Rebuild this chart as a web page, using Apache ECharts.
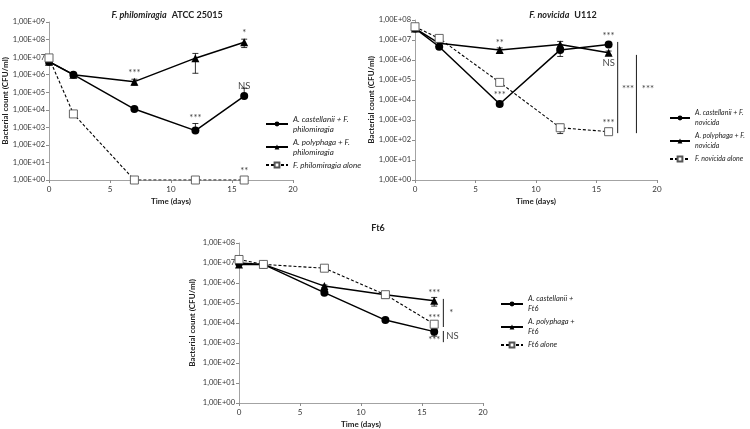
<!DOCTYPE html>
<html>
<head>
<meta charset="utf-8">
<script src="https://cdn.jsdelivr.net/npm/echarts@6/dist/echarts.min.js"></script>
<style>html,body{margin:0;padding:0;background:#fff}#c{width:750px;height:429px}</style>
</head>
<body>
<div id="c"></div>
<script>
// ---- data ----
const days = [0, 2, 7, 12, 16];
const xMin = 0, xMax = 20, xStep = 5;

// Panel 1: F. philomiragia ATCC 25015
const p1Cast  = [5.5e6, 1.0e6, 1.1e4, 6.5e2, 6.0e4];
const p1Poly  = [5.5e6, 1.0e6, 4.0e5, 8.7e6, 7.0e7];
const p1Alone = [9.0e6, 5.8e3, 1, 1, 1];
const p1CastSD  = [0, 1e5, 2e3, 1e3, 1.1e5];
const p1PolySD  = [0, 1e5, 1.5e5, 7.5e6, 3.5e7];
const p1AloneSD = [0, 0, 0, 0, 0];

// Panel 2: F. novicida U112
const p2Cast  = [3.8e7, 4.6e6, 6.3e3, 3.2e6, 6.0e6];
const p2Poly  = [3.8e7, 6.8e6, 3.2e6, 6.0e6, 2.3e6];
const p2Alone = [4.6e7, 1.2e7, 7.6e4, 4.1e2, 2.6e2];
const p2CastSD  = [0, 5e5, 1.5e3, 1.7e6, 1e6];
const p2PolySD  = [0, 1e6, 8e5, 2.5e6, 5e5];
const p2AloneSD = [0, 0, 2e4, 2e2, 3e1];

// Panel 3: Ft6
const p3Cast  = [1.0e7, 8.5e6, 3.3e5, 1.4e4, 3.7e3];
const p3Poly  = [8.5e6, 8.5e6, 7.0e5, 2.6e5, 1.3e5];
const p3Alone = [1.5e7, 8.5e6, 5.5e6, 2.6e5, 8.7e3];
const p3CastSD  = [0, 0, 5e4, 2e3, 1.5e3];
const p3PolySD  = [0, 0, 1e5, 3e4, 6e4];
const p3AloneSD = [0, 0, 0, 3e4, 2e3];

// significance annotations [day, value, text]
const p1Notes = [[7, 1.3e6, '***'], [16, 2.3e8, '*'], [16, 2.3e5, 'NS'], [12, 3.4e3, '***'], [16, 3.2, '**']];
const p2Notes = [[7, 7e6, '**'], [7, 1.8e4, '***'], [16, 1.6e7, '***'], [16, 7e5, 'NS'], [16, 7e2, '***'], [17.6, 3.5e4, '***'], [19.25, 3.5e4, '***']];
const p3Notes = [[16, 3.2e5, '***'], [16, 1.8e4, '***'], [16, 1.4e3, '***'], [17.4, 3.2e4, '*'], [17.5, 2.2e3, 'NS']];
// comparison brackets [day, from, to]
const p2Brackets = [[16.75, 8e6, 2.2e2], [18.3, 1.8e6, 2.2e2]];
const p3Brackets = [[16.75, 1.6e5, 6.3e3], [16.75, 4e3, 1.1e3]];

const names = [
  ['A. castellanii + F.\nphilomiragia', 'A. polyphaga + F.\nphilomiragia', 'F. philomiragia alone'],
  ['A. castellanii + F.\nnovicida', 'A. polyphaga + F.\nnovicida', 'F. novicida alone'],
  ['A. castellanii +\nFt6', 'A. polyphaga +\nFt6', 'Ft6 alone']
];

// ---- chart ----
const FONT = 'Lato, "Open Sans", sans-serif';
const chart = echarts.init(document.getElementById('c'));
const zip = arr => days.map((d, i) => [d, arr[i]]);
const zipSD = (m, sd) => days.map((d, i) => [d, m[i], sd[i]]).filter(r => r[2] > 0);

const grids = [
  {left: 49, top: 22, width: 244, height: 158},
  {left: 415, top: 20, width: 242, height: 160},
  {left: 239, top: 243, width: 244, height: 160}
];
const yMaxes = [1e9, 1e8, 1e8];
const yNameGaps = [40, 36, 43];

function fmtExp(v) {
  const e = Math.round(Math.log10(v));
  return '1,00E+' + String(e).padStart(2, '0');
}

const xAxis = grids.map((g, i) => ({
  type: 'value', gridIndex: i, min: xMin, max: xMax, interval: xStep,
  axisLine: {lineStyle: {color: '#8c8c8c', width: 0.8}},
  axisTick: {show: true, length: 3, lineStyle: {color: '#8c8c8c'}},
  splitLine: {show: false},
  axisLabel: {fontSize: 8, color: '#333', margin: 5, fontFamily: FONT},
  name: 'Time (days)', nameLocation: 'middle', nameGap: 17,
  nameTextStyle: {fontSize: 8, fontWeight: 'bold', color: '#222', fontFamily: FONT}
}));
const yAxis = grids.map((g, i) => ({
  type: 'log', logBase: 10, gridIndex: i, min: 1, max: yMaxes[i],
  axisLine: {show: true, lineStyle: {color: '#8c8c8c', width: 0.8}},
  axisTick: {show: true, length: 3, lineStyle: {color: '#8c8c8c'}},
  splitLine: {show: false},
  axisLabel: {fontSize: 7.5, color: '#333', margin: 4, fontFamily: FONT, formatter: fmtExp},
  name: 'Bacterial count (CFU/ml)', nameLocation: 'middle', nameGap: yNameGaps[i],
  nameTextStyle: {fontSize: 8, fontWeight: 'bold', color: '#222', fontFamily: FONT}
}));

const panels = [
  [p1Cast, p1Poly, p1Alone, p1CastSD, p1PolySD, p1AloneSD, p1Notes, []],
  [p2Cast, p2Poly, p2Alone, p2CastSD, p2PolySD, p2AloneSD, p2Notes, p2Brackets],
  [p3Cast, p3Poly, p3Alone, p3CastSD, p3PolySD, p3AloneSD, p3Notes, p3Brackets]
];

function errRender(params, api) {
  const x = api.value(0), m = api.value(1), sd = api.value(2);
  const c = api.coord([x, m]);
  const hi = api.coord([x, m + sd]);
  const hasLo = m - sd > 0;
  const lo = hasLo ? api.coord([x, m - sd]) : c;
  const st = {stroke: '#000', lineWidth: 0.8};
  const w = 3;
  const ch = [
    {type: 'line', shape: {x1: hi[0], y1: hi[1], x2: lo[0], y2: lo[1]}, style: st},
    {type: 'line', shape: {x1: hi[0] - w, y1: hi[1], x2: hi[0] + w, y2: hi[1]}, style: st}
  ];
  if (hasLo) ch.push({type: 'line', shape: {x1: lo[0] - w, y1: lo[1], x2: lo[0] + w, y2: lo[1]}, style: st});
  return {type: 'group', children: ch};
}
function bracketRender(params, api) {
  const a = api.coord([api.value(0), api.value(1)]);
  const b = api.coord([api.value(0), api.value(2)]);
  return {type: 'line', shape: {x1: a[0], y1: a[1], x2: b[0], y2: b[1]}, style: {stroke: '#000', lineWidth: 0.9}};
}

const series = [];
panels.forEach((p, i) => {
  const [cast, poly, alone, castSD, polySD, aloneSD, notes, brackets] = p;
  series.push({
    type: 'custom', xAxisIndex: i, yAxisIndex: i, renderItem: errRender, silent: true, z: 1,
    encode: {x: 0, y: 1}, data: zipSD(cast, castSD).concat(zipSD(poly, polySD), zipSD(alone, aloneSD))
  });
  series.push({
    name: names[i][0], type: 'line', xAxisIndex: i, yAxisIndex: i, data: zip(cast), z: 3,
    symbol: 'circle', symbolSize: 8, lineStyle: {color: '#000', width: 1.5},
    itemStyle: {color: '#000'}, animation: false
  });
  series.push({
    name: names[i][1], type: 'line', xAxisIndex: i, yAxisIndex: i, data: zip(poly), z: 3,
    symbol: 'triangle', symbolSize: 8, lineStyle: {color: '#000', width: 1.5},
    itemStyle: {color: '#000'}, animation: false
  });
  series.push({
    name: names[i][2], type: 'line', xAxisIndex: i, yAxisIndex: i, data: zip(alone), z: 3,
    symbol: 'rect', symbolSize: 8, lineStyle: {color: '#000', width: 1.1, type: [3, 2]},
    itemStyle: {color: '#fff', borderColor: '#555', borderWidth: 0.9}, animation: false
  });
  series.push({
    type: 'scatter', xAxisIndex: i, yAxisIndex: i, symbolSize: 0, silent: true, z: 5,
    data: notes,
    label: {show: true, position: 'inside', formatter: d => d.data[2], fontSize: 9.5, color: '#111', fontFamily: FONT}
  });
  if (brackets.length) series.push({
    type: 'custom', xAxisIndex: i, yAxisIndex: i, renderItem: bracketRender, silent: true, z: 2,
    encode: {x: 0, y: [1, 2]}, data: brackets
  });
});

function legendOf(left, top, data, fs, iw) {
  return {
    left, top, data,
    orient: 'vertical', itemWidth: iw, itemHeight: 6, itemGap: 3, selectedMode: false,
    textStyle: {fontSize: fs, fontStyle: 'italic', color: '#222', fontFamily: FONT, lineHeight: 10}
  };
}

const titleRich = {
  i: {fontSize: 9, fontWeight: 'bold', fontStyle: 'italic', color: '#222', fontFamily: FONT},
  b: {fontSize: 9, fontWeight: 'bold', color: '#222', fontFamily: FONT}
};

chart.setOption({
  animation: false,
  title: [
    {text: '{i|F. philomiragia} {b|ATCC 25015}', left: 162, top: 1, textAlign: 'center', textStyle: {rich: titleRich}},
    {text: '{i|F. novicida} {b|U112}', left: 558, top: 1, textAlign: 'center', textStyle: {rich: titleRich}},
    {text: '{b|Ft6}', left: 373, top: 219, textAlign: 'center', textStyle: {rich: titleRich}}
  ],
  grid: grids.map(g => Object.assign({outerBoundsMode: 'none'}, g)),
  xAxis, yAxis,
  legend: [
    legendOf(260, 109, names[0], 8, 22),
    legendOf(664, 103, names[1], 7, 20),
    legendOf(495, 289, names[2], 7.5, 22)
  ],
  series
});
</script>
</body>
</html>
